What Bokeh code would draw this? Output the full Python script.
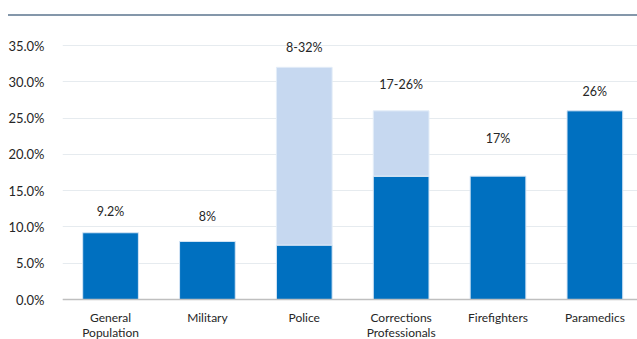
from bokeh.plotting import figure
from bokeh.models import ColumnDataSource, Range1d, FixedTicker, Div, Span
from bokeh.layouts import column
from bokeh.core.properties import value
from bokeh.embed import file_html
from bokeh.resources import INLINE

# Prevalence by group: low end of the estimate and high end of the estimate (%)
categories = ["General\nPopulation", "Military", "Police",
              "Corrections\nProfessionals", "Firefighters", "Paramedics"]
low_values = [9.2, 8.0, 7.5, 17.0, 17.0, 26.0]
high_values = [9.2, 8.0, 32.0, 26.0, 17.0, 26.0]
value_labels = ["9.2%", "8%", "8-32%", "17-26%", "17%", "26%"]
y_ticks = [0, 5, 10, 15, 20, 25, 30, 35]

FONT = "Lato"
DARK = "#0070C0"
LIGHT = "#C6D8F0"
TEXT = "#262626"

xs = list(range(len(categories)))
label_offsets = [-21, -25, -20, -26, -38, -19]

solid = ColumnDataSource(dict(x=xs, top=low_values))
rng_idx = [i for i in xs if high_values[i] > low_values[i]]
ranges = ColumnDataSource(dict(
    x=rng_idx,
    bottom=[low_values[i] for i in rng_idx],
    top=[high_values[i] for i in rng_idx],
))
labels = ColumnDataSource(dict(x=xs, y=high_values, text=value_labels, off=label_offsets))

# category names, split into their first and second lines
first_lines = [c.split("\n")[0] for c in categories]
second_lines = [c.split("\n")[1] if "\n" in c else "" for c in categories]
cat_src = ColumnDataSource(dict(x=xs, y=[0] * len(xs), l1=first_lines, l2=second_lines))

# the frame reaches the bottom edge so the category names sit below the baseline
p = figure(width=637, height=323, output_backend="svg", toolbar_location=None,
           x_range=Range1d(-0.496, 5.44), y_range=Range1d(-5.51, 39.0),
           min_border_top=0, min_border_left=62, min_border_right=0,
           min_border_bottom=0)
p.outline_line_color = None
p.background_fill_color = "white"
p.border_fill_color = "white"

p.vbar(x="x", bottom=0, top="top", width=0.575, source=solid,
       fill_color=DARK, line_color="#D5E5F5", line_width=1)
p.vbar(x="x", bottom="bottom", top="top", width=0.575, source=ranges,
       fill_color=LIGHT, line_color="#E3EDF8", line_width=1)

p.text(x="x", y="y", text="text", y_offset="off", source=labels,
       text_align="center", text_baseline="middle",
       text_font=value(FONT), text_font_size="12.5px", text_color=TEXT)

for col, off in (("l1", 18), ("l2", 33)):
    p.text(x="x", y="y", text=col, y_offset=off, source=cat_src,
           text_align="center", text_baseline="middle",
           text_font=value(FONT), text_font_size="12px", text_color=TEXT)

# category baseline
p.add_layout(Span(location=0, dimension="width", line_color="#BFBFBF", line_width=1.5))

p.xaxis.visible = False

# y axis
p.yaxis.ticker = FixedTicker(ticks=y_ticks)
p.yaxis.major_label_overrides = {v: f"{v:.1f}%" for v in y_ticks}
p.yaxis.axis_line_color = None
p.yaxis.major_tick_line_color = None
p.yaxis.minor_tick_line_color = None
p.yaxis.major_label_standoff = 12
p.yaxis.major_label_text_font = FONT
p.yaxis.major_label_text_font_size = "13px"
p.yaxis.major_label_text_color = TEXT

p.xgrid.grid_line_color = None
p.ygrid.grid_line_color = "#E6EBEF"
p.ygrid.grid_line_width = 1

top_rule = Div(text="", width=629, height=14, margin=(0, 0, 0, 8),
               styles={"border-bottom": "2px solid #8497AA", "box-sizing": "content-box"})

layout = column(top_rule, p, spacing=0)

open("out.html", "w").write(file_html(layout, INLINE))
